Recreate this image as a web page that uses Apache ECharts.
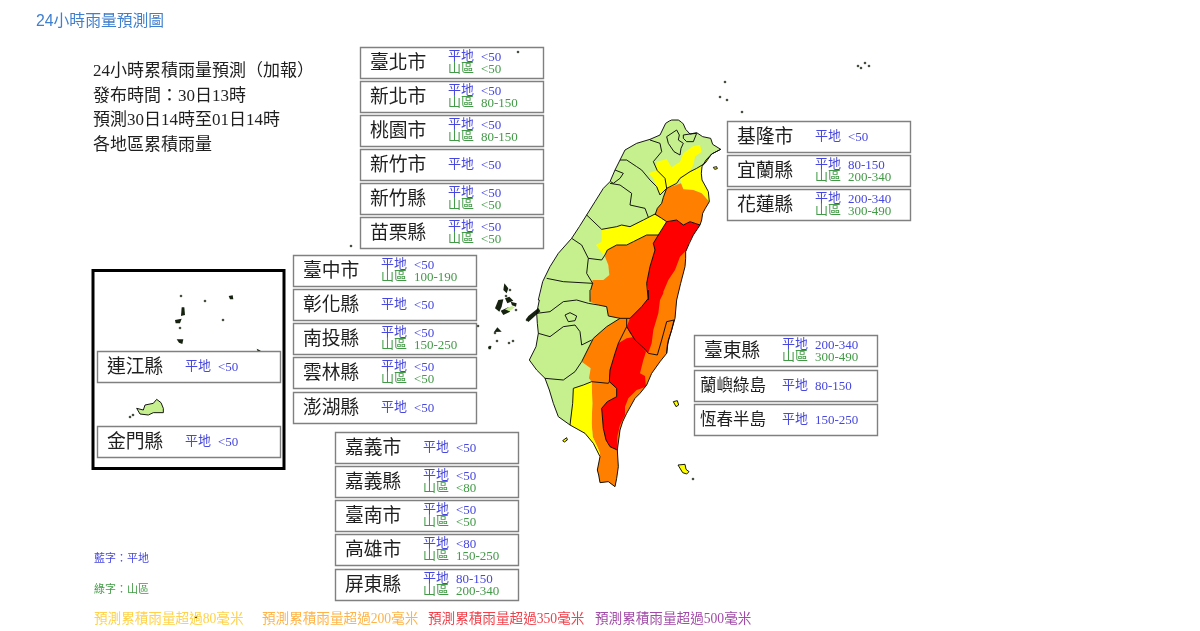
<!DOCTYPE html>
<html><head><meta charset="utf-8">
<style>html,body{margin:0;padding:0;background:#fff}#c{width:1200px;height:631px;filter:blur(0.35px)}</style>
<script src="https://cdn.jsdelivr.net/npm/echarts@6/dist/echarts.min.js"></script>
</head><body><div id="c"></div>
<script>
// ---------- content ----------
const pageTitle = '24小時雨量預測圖';
const headerLines = ['24小時累積雨量預測（加報）','發布時間：30日13時','預測30日14時至01日14時','各地區累積雨量'];
const countyNames = ['臺北市','新北市','桃園市','新竹市','新竹縣','苗栗縣','臺中市','彰化縣','南投縣','雲林縣','澎湖縣','嘉義市','嘉義縣','臺南市','高雄市','屏東縣','基隆市','宜蘭縣','花蓮縣','臺東縣','蘭嶼綠島','恆春半島','連江縣','金門縣'];
const plainRain = ['<50','<50','<50','<50','<50','<50','<50','<50','<50','<50','<50','<50','<50','<50','<80','80-150','<50','80-150','200-340','200-340','80-150','150-250','<50','<50'];
const mountainRain = ['<50','80-150','80-150','','<50','<50','100-190','','150-250','<50','','','<80','<50','150-250','200-340','','200-340','300-490','300-490','','','',''];
const keyLines = ['藍字：平地','綠字：山區'];
const warningLines = ['預測累積雨量超過80毫米','預測累積雨量超過200毫米','預測累積雨量超過350毫米','預測累積雨量超過500毫米'];
const rainColours = {none:'#c6f08e', y:'#ffff00', o:'#ff7f00', r:'#ff0000'};

// ---------- map outlines, traced on sheets of the picture ----------
const N = a => a.map(p => [520 + p[0]/3, 110 + p[1]/3]);
const S = a => a.map(p => [520 + p[0]/3, 290 + p[1]/3]);
const P = a => a.map(p => [470 + p[0]/3, 270 + p[1]/3]);
const M = a => a.map(p => [85 + p[0]/3, 260 + p[1]/3]);

const coastEastNorth = N([[437,40],[448,33],[455,30],[475,30],[484,36],[490,42],[497,58],[510,72],[530,68],[548,80],[572,85],[578,103],[602,118],[575,132],[558,150],[546,170],[544,190],[546,210],[556,228],[565,245],[568,275],[556,295],[548,310],[545,330],[540,345],[520,375],[508,400],[497,425],[497,445],[495,470],[482,520],[470,570]]);
const coastEastSouth = S([[465,85],[455,120],[445,150],[440,190],[420,215],[395,250],[380,285],[360,310],[345,325],[320,370],[308,395],[300,420],[292,480],[295,530],[290,565],[285,590]]);
const coastWestSouth = S([[265,575],[240,578],[236,555],[232,540],[240,500],[220,460],[195,430],[150,405],[115,380],[100,340],[88,300],[75,265],[50,240],[28,210],[48,170],[55,130],[52,100],[50,70],[58,30]]);
const coastWestNorth = N([[55,570],[68,515],[90,470],[115,430],[155,385],[178,350],[200,315],[225,275],[250,235],[270,215],[285,180],[300,150],[315,120],[350,100],[390,88],[420,75],[437,40]]);
const coastLine = [...coastEastNorth, ...coastEastSouth, ...coastWestSouth, ...coastWestNorth];

const yellowNorth = N([[410,155],[440,148],[455,172],[480,155],[490,130],[520,108],[540,105],[545,125],[525,140],[520,165],[510,185],[480,205],[470,220],[440,235],[420,255],[410,230],[400,205],[385,190],[408,182]]);
const yellowYilan = N([[575,132],[558,150],[546,170],[544,190],[546,210],[556,228],[565,245],[568,275],[545,250],[520,240],[490,238],[483,220],[480,205],[510,185],[530,175],[555,160]]);
const orangeNorth = N([[440,235],[483,220],[490,238],[520,240],[545,250],[568,275],[556,295],[548,310],[545,330],[540,345],[510,335],[490,345],[470,330],[440,335],[425,325],[405,315],[412,295],[425,280],[430,262]]);
const yellowMiddle = N([[405,312],[440,335],[415,375],[380,375],[340,395],[320,405],[290,405],[262,420],[250,435],[228,405],[245,395],[245,358],[290,350],[305,345],[330,350],[370,330],[385,322]]);
const orangeMain = [
  ...N([[415,375],[440,335],[540,345],[520,375],[508,400],[497,425],[497,445],[495,470],[482,520],[470,570]]),
  ...coastEastSouth,
  ...S([[265,575],[240,578],[236,555],[232,540],[240,500],[240,490],[232,470],[218,440],[215,400],[217,340],[215,275],[207,265],[212,235],[185,215],[210,165],[220,145],[260,110],[300,85],[265,78],[260,50],[235,45],[210,35]]),
  ...N([[212,540],[218,510],[250,510],[268,495],[265,465],[255,440],[262,420],[290,405],[320,405],[340,395],[380,375]])
];
const redNorth = [
  ...N([[440,335],[470,330],[490,345],[510,335],[540,345],[520,375],[508,395],[500,420],[480,440],[465,480],[445,510],[430,545]]),
  ...S([[430,10],[420,30],[415,70],[400,120],[395,160],[385,188],[375,180],[345,150],[330,130],[320,110],[330,85],[365,50],[385,25],[385,0]]),
  ...N([[380,520],[390,470],[405,420],[400,400],[415,375]])
];
const redSouth = S([[345,140],[360,165],[378,185],[370,210],[360,250],[375,258],[378,290],[350,300],[325,325],[315,350],[315,375],[300,405],[292,440],[292,480],[270,470],[258,450],[250,415],[245,355],[262,335],[290,320],[290,295],[268,275],[270,240],[285,190],[295,160],[320,145]]);
const yellowSouth = S([[160,295],[190,285],[215,275],[217,340],[215,400],[218,440],[232,470],[240,490],[240,500],[220,460],[195,430],[150,405],[155,370]]);

const greenIsland = S([[460,335],[472,332],[476,345],[468,350]]);
const orchidIsland = S([[474,525],[495,523],[498,538],[507,545],[500,552],[488,548]]);
const liuqiu = S([[128,452],[140,443],[142,450],[133,456]]);
const guishan = N([[580,172],[590,170],[592,176],[584,178]]);
const kinmen = M([[155,445],[175,450],[180,435],[205,430],[215,418],[228,428],[235,445],[235,458],[205,458],[190,465],[165,462]]);
const penghuA = P([[75,115],[85,90],[100,88],[95,110],[88,125]]);
const penghuB = P([[105,85],[118,80],[130,92],[112,100]]);
const penghuC = P([[92,122],[115,112],[120,125],[100,135]]);
const penghuD = P([[122,95],[140,100],[138,110],[126,106]]);
const penghuE = P([[103,40],[115,55],[110,70],[100,60]]);
const penghuF = P([[72,186],[82,172],[95,185]]);
const penghuG = P([[54,230],[64,228],[62,238],[56,238]]);
const penghuGreen = P([[105,118],[125,108],[135,112],[118,124]]);
const matsuA = M([[270,180],[290,176],[285,190],[272,190]]);
const matsuB = M([[290,142],[298,142],[300,165],[288,168]]);
const matsuC = M([[275,238],[295,238],[292,252],[282,248]]);
const matsuD = M([[431,108],[443,106],[445,118],[435,118]]);
const matsuE = M([[515,266],[528,272],[518,274]]);
const mailiao = S([[18,88],[25,78],[55,54],[61,64],[25,96]]);
const islets = [[725,82],[727,100],[742,112],[720,97],[518,52],[196,617],[351,246],[478,326],[495,333],[497,341],[509,343],[513,341],[490,347],[181,296],[205,301],[223,320],[180,328],[527,320],[693,479],[858,66],[865,63],[869,66],[861,68],[130,417],[133,415],[506,296],[510,290],[516,310]];

const countyBorders = [
  N([[440,80],[470,60],[478,75],[475,90],[490,100],[483,115],[480,135],[462,125],[445,100],[440,80]]),
  N([[490,75],[510,72],[530,70],[520,95],[500,95],[490,85],[490,75]]),
  N([[390,90],[420,100],[425,125],[400,155],[412,182],[435,205],[440,235]]),
  N([[602,118],[575,132],[555,160],[530,175],[510,185],[480,205],[470,220],[440,235]]),
  N([[300,150],[320,150],[350,170],[365,180],[390,210],[410,230],[420,255],[440,235]]),
  N([[285,180],[310,190],[300,205],[280,220],[272,215]]),
  N([[270,220],[300,225],[335,250],[330,285],[375,295],[385,322]]),
  N([[200,315],[245,358],[290,350],[305,345],[330,350],[370,330],[405,312],[425,325],[440,335]]),
  N([[255,435],[262,420],[290,405],[320,405],[340,395],[380,375],[415,375],[440,335],[470,330],[490,345],[510,335],[540,345]]),
  N([[405,315],[412,295],[425,280],[430,262],[440,235]]),
  N([[155,385],[185,405],[205,445],[245,450],[255,435]]),
  N([[205,445],[200,490],[218,520]]),
  N([[80,505],[130,515],[218,520],[212,540]]),
  N([[415,375],[400,400],[405,420],[390,470],[380,520],[385,570]]),
  S([[385,0],[385,25],[365,50],[330,85],[320,85],[300,85],[265,78],[260,50],[235,45],[205,40],[170,30],[130,35],[90,65],[50,70]]),
  S([[210,0],[210,35]]),
  S([[55,130],[90,140],[130,110],[165,105],[180,125],[185,165],[215,150]]),
  S([[135,75],[150,68],[170,78],[165,92],[145,95],[135,75]]),
  S([[75,265],[130,270],[165,245],[185,215],[210,165],[220,145],[260,110],[300,85]]),
  S([[320,85],[320,110],[345,150],[375,178],[385,190],[412,195],[425,150],[440,95],[462,90],[455,120],[442,165],[440,190]]),
  S([[320,110],[295,160],[285,190],[270,240],[268,275],[290,295],[290,320],[262,335],[245,355],[250,415],[258,450],[270,470],[292,480]]),
  S([[150,405],[158,340],[160,295],[190,285],[215,275],[265,280],[268,275]]),
  [...coastLine],
  [...greenIsland, greenIsland[0]],
  [...orchidIsland, orchidIsland[0]],
  [...kinmen, kinmen[0]],
  [...liuqiu, liuqiu[0]],
  [...guishan, guishan[0]]
];

const mapRegions = [
  ['canvasFrame','frame',[[0,0],[1200,0],[1200,631],[0,631]]],
  ['taiwan','none',coastLine],
  ['yellowNorth','y',yellowNorth],['yellowYilan','y',yellowYilan],['yellowMiddle','y',yellowMiddle],
  ['orangeNorth','o',orangeNorth],['orangeMain','o',orangeMain],
  ['redNorth','r',redNorth],['redSouth','r',redSouth],['yellowSouth','y',yellowSouth],
  ['greenIsland','y',greenIsland],['orchidIsland','y',orchidIsland],['liuqiu','y',liuqiu],['guishan','y',guishan],
  ['kinmen','none',kinmen],
  ['penghuA','dark',penghuA],['penghuB','dark',penghuB],['penghuC','dark',penghuC],['penghuD','dark',penghuD],['penghuE','dark',penghuE],['penghuF','dark',penghuF],['penghuG','dark',penghuG],['penghuGreen','none',penghuGreen],
  ['matsuA','dark',matsuA],['matsuB','dark',matsuB],['matsuC','dark',matsuC],['matsuD','dark',matsuD],['matsuE','dark',matsuE],['mailiao','dark',mailiao]
];

// ---------- layout ----------
const panelCorners = [[360,47],[360,81],[360,115],[360,149],[360,183],[360,217],[293,255],[293,289],[293,323],[293,357],[293,392],[335,432],[335,466],[335,500],[335,534],[335,569],[727,121],[727,155],[727,189],[694,335],[694,370],[694,404],[97,351],[97,426]];
const headerY = [72,97,121,146];
const keyY = [559,590];
const warningX = [94,262,428,595];
const warningColours = ['#ffd24a','#ffb347','#f0404a','#a24aa8'];
const BLUE = '#4646e0', GREEN = '#429a46', SERIF = '"Liberation Serif","Noto Sans CJK TC"';

const geoJson = {type:'FeatureCollection', features: mapRegions.map(r => {
  const ring = r[2].slice(); ring.push(ring[0]);
  return {type:'Feature', properties:{name:r[0]}, geometry:{type:'Polygon', coordinates:[ring]}};
})};
echarts.registerMap('tw', geoJson);

const fillOf = k => k==='frame' ? 'rgba(0,0,0,0)' : k==='dark' ? '#16220f' : rainColours[k];
const text = (t,x,y,size,fill,font,extra) => ({type:'text', silent:true, z:10, x, y,
  style:Object.assign({text:t, fontSize:size, fontFamily:font||SERIF, fill, verticalAlign:'middle', align:'left'}, extra||{})});

const g = [];
g.push(text(pageTitle,36,22,15.8,'#3f7fcf','"Liberation Sans","Noto Sans CJK TC"'));
headerLines.forEach((t,i)=>g.push(text(t,93,headerY[i],17,'#1f1f1f')));
keyLines.forEach((t,i)=>g.push(text(t,94,keyY[i],11,i?GREEN:BLUE)));
warningLines.forEach((t,i)=>g.push(text(t,warningX[i],619,13.6,warningColours[i])));
g.push({type:'rect',silent:true,z:9,shape:{x:93,y:270.5,width:191,height:198},style:{fill:'none',stroke:'#000',lineWidth:3}});
countyNames.forEach((name,i)=>{
  const [x,y] = panelCorners[i];
  g.push({type:'rect',silent:true,z:9,shape:{x:x+.5,y:y+.5,width:183,height:31},style:{fill:'none',stroke:'#808080',lineWidth:1.4}});
  const long = name.length>3;
  g.push(text(name,x+(long?6:10),y+17,long?16.5:18.8,'#1f1f1f'));
  const two = mountainRain[i]!=='';
  g.push(text('平地',x+88,y+(two?9.5:15.5),13,BLUE));
  g.push(text(plainRain[i],x+121,y+(two?10.5:17),13,BLUE));
  if(two){
    g.push(text('山區',x+88,y+22,13,GREEN));
    g.push(text(mountainRain[i],x+121,y+23,13,GREEN));
  }
});

const chart = echarts.init(document.getElementById('c'),null,{renderer:'canvas'});
chart.setOption({
  animation:false,
  backgroundColor:'#fff',
  geo:{
    map:'tw', silent:true, roam:false, left:0, top:0, width:1200, height:631,
    projection:{project:p=>p, unproject:p=>p},
    label:{show:false},
    itemStyle:{borderWidth:0, borderColor:'rgba(0,0,0,0)'},
    regions: mapRegions.map(r=>({name:r[0], itemStyle:{areaColor:fillOf(r[1]), borderWidth:0}}))
  },
  series:[
    {type:'lines', coordinateSystem:'geo', polyline:true, silent:true, z:4,
     lineStyle:{color:'#0b0b0b', width:0.95, opacity:1},
     data:countyBorders.map(c=>({coords:c}))},
    {type:'scatter', coordinateSystem:'geo', silent:true, z:5, symbolSize:2.6,
     itemStyle:{color:'#16220f'}, data:islets}
  ],
  graphic:g
});
</script></body></html>
